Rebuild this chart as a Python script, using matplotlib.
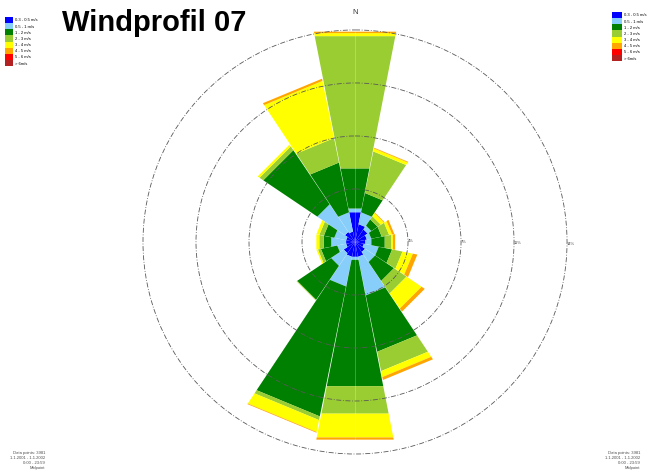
import numpy as np
import matplotlib.pyplot as plt
from matplotlib.patches import Patch

# direction sectors, clockwise from north
directions = ['N', 'NNE', 'NE', 'ENE', 'E', 'ESE', 'SE', 'SSE',
              'S', 'SSW', 'SW', 'WSW', 'W', 'WNW', 'NW', 'NNW']

classes = ['0.3 - 0.5 m/s', '0.5 - 1 m/s', '1 - 2 m/s', '2 - 3 m/s',
           '3 - 4 m/s', '4 - 5 m/s', '5 - 6 m/s', '> 6m/s']
colors = ['#0000ff', '#87cefa', '#008000', '#9acd32',
          '#ffff00', '#ffa500', '#ff0000', '#b22222']

# frequency in % per speed class, one list per direction
f_03_05 = [2.0, 1.2, 1.0, 0.8, 0.7, 0.6, 0.8, 1.0, 1.0, 1.0, 0.9, 0.6, 0.6, 0.6, 0.8, 0.7]
f_05_1 = [0.25, 0.8, 0.3, 0.3, 0.4, 1.0, 0.8, 2.6, 0.2, 2.0, 1.0, 0.6, 1.0, 0.8, 2.2, 1.3]
f_1_2 = [2.7, 1.3, 0.5, 0.7, 0.9, 0.9, 1.5, 3.8, 8.5, 8.75, 2.7, 1.1, 0.5, 0.7, 4.3, 3.35]
f_2_3 = [8.9, 2.8, 0.25, 0.5, 0.45, 0.7, 1.0, 1.3, 1.85, 0.25, 0.05, 0.2, 0.3, 0.3, 0.3, 1.65]
f_3_4 = [0.2, 0.2, 0.25, 0.2, 0.1, 0.7, 1.2, 0.4, 1.6, 0.8, 0.0, 0.1, 0.2, 0.2, 0.15, 3.85]
f_4_5 = [0.1, 0.05, 0.05, 0.15, 0.15, 0.3, 0.25, 0.2, 0.15, 0.05, 0.0, 0.0, 0.0, 0.0, 0.0, 0.15]
f_5_6 = [0.0] * 16
f_6 = [0.0] * 16
freqs = [f_03_05, f_05_1, f_1_2, f_2_3, f_3_4, f_4_5, f_5_6, f_6]

ring_values = [3.5, 7, 10.5, 14]
ring_labels = ['4%', '7%', '11%', '14%']

plt.rcParams['font.family'] = ['Liberation Sans', 'DejaVu Sans']

fig = plt.figure(figsize=(6.52, 4.76), dpi=100)
ax = fig.add_axes([0.2077, 0.0303, 0.6736, 0.9227], projection='polar')
ax.set_theta_zero_location('N')
ax.set_theta_direction(-1)

theta = np.deg2rad(np.arange(16) * 22.5)
width = np.deg2rad(22.5) * 0.985
bottom = np.zeros(16)
for vals, col in zip(freqs, colors):
    vals = np.array(vals)
    ax.bar(theta, vals, width=width, bottom=bottom, color=col,
           edgecolor='none', zorder=1)
    bottom += vals

# straight outer edges on the sectors instead of arcs
for p in ax.patches:
    p.get_path()._interpolation_steps = 1

ax.set_ylim(0, 14.5)
ax.set_rgrids(ring_values, labels=ring_labels, fontsize=3, color='0.3')
ax.set_rlabel_position(91)
ax.set_thetagrids([0, 180], labels=['', ''])
ax.xaxis.grid(True, color='white', lw=0.5, alpha=0.35)
ax.yaxis.grid(True, color='0.35', lw=0.6, linestyle=(0, (6, 2, 1, 2)))
ax.set_axisbelow(False)
ax.spines['polar'].set_visible(False)
ax.patch.set_alpha(0)

fig.text(355 / 652, 1 - 12 / 476, 'N', fontsize=5.5, ha='center', va='center', color='0.2')
fig.text(62 / 652, 1 - 23 / 476, 'Windprofil 07', fontsize=21, fontweight='bold',
         ha='left', va='center')

handles = [Patch(facecolor=c, edgecolor='none') for c in colors]
fig.legend(handles, classes, loc='upper left', bbox_to_anchor=(5 / 652, 1 - 17 / 476),
           frameon=False, fontsize=3, handlelength=1.9, handleheight=1.9,
           labelspacing=0, borderpad=0, borderaxespad=0, handletextpad=0.6)
fig.legend(handles, classes, loc='upper left', bbox_to_anchor=(612 / 652, 1 - 12 / 476),
           frameon=False, fontsize=3, handlelength=2.4, handleheight=1.9,
           labelspacing=0, borderpad=0, borderaxespad=0, handletextpad=0.4)

info = 'Data points: 3981\n1.1.2001 - 1.1.2002\n0:00 - 23:59\nMidpoint'
fig.text(45 / 652, 1 - 470 / 476, info, fontsize=3, ha='right', va='bottom',
         linespacing=1.3, color='0.3')
fig.text(640 / 652, 1 - 470 / 476, info, fontsize=3, ha='right', va='bottom',
         linespacing=1.3, color='0.3')

fig.savefig('out.png', dpi=100)
